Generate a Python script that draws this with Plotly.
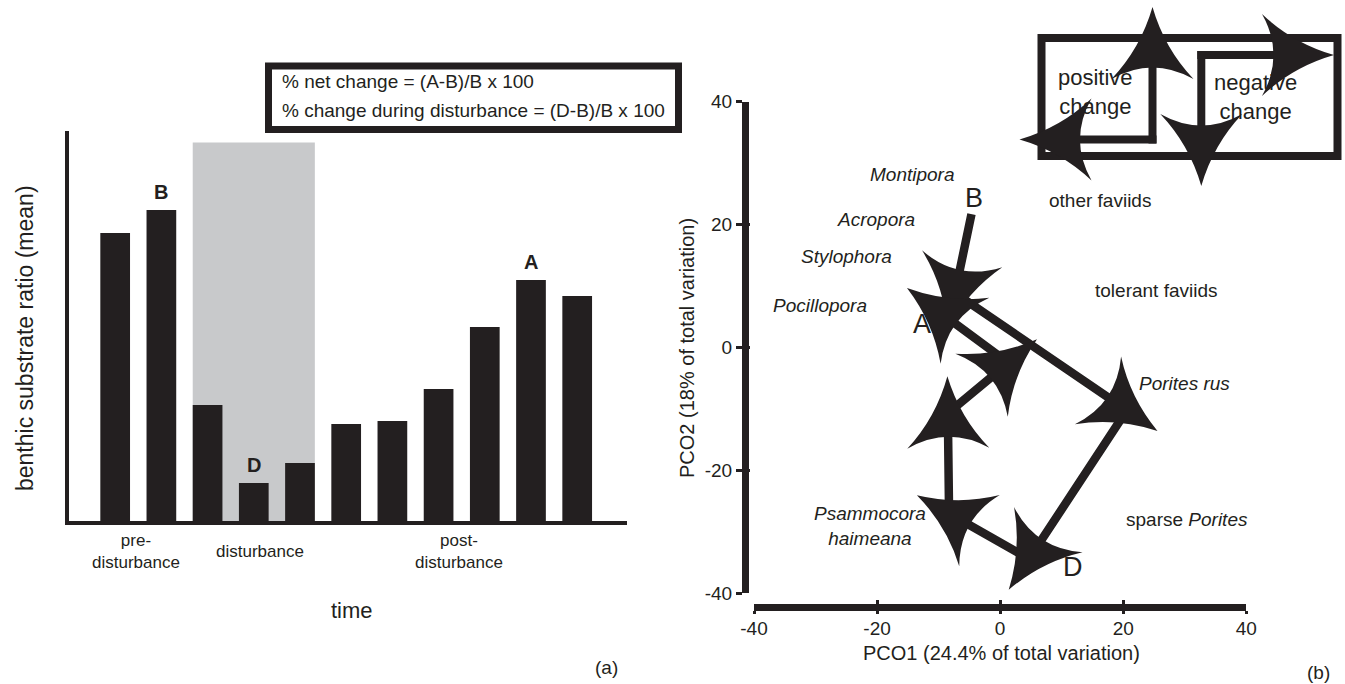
import plotly.graph_objects as go

# ---------------- data : panel (a) ----------------
bar_index = list(range(11))
bar_values = [2.88, 3.11, 1.16, 0.38, 0.58, 0.97, 1.00, 1.32, 1.94, 2.41, 2.25]
bar_letters = ["", "B", "", "D", "", "", "", "", "", "A", ""]
disturbance_bars = [2, 4]          # first / last bar of the disturbance period
disturbance_top = 3.784
period_labels = ["pre-<br>disturbance", "disturbance", "post-<br>disturbance"]
period_x = [0.45, 3.13, 7.44]
formula_lines = ["% net change = (A-B)/B x 100",
                 "% change during disturbance = (D-B)/B x 100"]

# ---------------- data : panel (b) ----------------
traj_pco1 = [-4.66, -7.34, 20.6, 4.7, -8.3, -8.5, 1.36, -10.3]
traj_pco2 = [21.7, 8.87, -10.2, -34.4, -27.0, -10.7, -2.5, 6.1]
point_labels = ["B", "A", "D"]
point_label_pco1 = [-4.2, -12.7, 11.9]
point_label_pco2 = [24.4, 3.8, -35.7]
species_names = ["<i>Montipora</i>", "<i>Acropora</i>", "<i>Stylophora</i>",
                 "<i>Pocillopora</i>", "other faviids", "tolerant faviids",
                 "<i>Porites rus</i>", "<i>Psammocora</i><br><i>haimeana</i>",
                 "sparse <i>Porites</i>"]
species_pco1 = [-14.2, -20.1, -25.0, -29.2, 16.3, 25.4, 29.9, -21.2, 30.3]
species_pco2 = [28.2, 20.9, 14.8, 6.8, 23.9, 9.3, -5.9, -29.1, -28.0]
pco_ticks = [-40, -20, 0, 20, 40]
pco_ticktext = ["-40", "-20", "0", "20", "40"]

# ---------------- style ----------------
W, H = 1345, 684
INK = "#231f20"
GREY = "#c8c9cb"
FONT = "Liberation Sans, Arial, Helvetica, sans-serif"
BAR_W = 0.643


def px(x):
    return x / W


def py(y):
    return 1 - y / H


xa_dom = [px(68.7), px(627)]
ya_dom = [py(521), py(131)]
xb_dom = [px(754), px(1246.3)]
yb_dom = [py(593.3), py(101.7)]
kx = (xb_dom[1] - xb_dom[0]) * W / 80.0
ky = (yb_dom[1] - yb_dom[0]) * H / 80.0

# concave "stealth" arrow head, local pixel frame (a along direction, b across)
HEAD = {"tip": (37, 0), "w1": (-35, 41), "w2": (-35, -41),
        "c1": (-4.5, 12), "cb": (-12, 0), "c2": (-4.5, -12)}


def head_path(conv, ux, uy):
    pts = {}
    for k, (a, b) in HEAD.items():
        sx = a * ux - b * uy
        sy = a * uy + b * ux
        X, Y = conv(sx, sy)
        pts[k] = f"{X:.5f},{Y:.5f}"
    return (f"M{pts['tip']} Q{pts['c1']} {pts['w1']} Q{pts['cb']} {pts['w2']} "
            f"Q{pts['c2']} {pts['tip']} Z")


def paper_text(x, y, text, size, **kw):
    d = dict(xref="paper", yref="paper", x=px(x), y=py(y), text=text, showarrow=False,
             xanchor="center", yanchor="middle", font=dict(size=size, color=INK))
    d.update(kw)
    return d


shapes = []
annotations = []

# grey disturbance band
shapes.append(dict(type="rect", xref="x", yref="y",
                   x0=disturbance_bars[0] - BAR_W / 2, x1=disturbance_bars[1] + BAR_W / 2,
                   y0=0, y1=disturbance_top, fillcolor=GREY, line=dict(width=0),
                   layer="below"))
# formula box
shapes.append(dict(type="rect", xref="paper", yref="paper",
                   x0=px(268.5), x1=px(678.5), y0=py(129.5), y1=py(66),
                   line=dict(color=INK, width=7), fillcolor="rgba(0,0,0,0)"))
for t, yy in zip(formula_lines, [81.5, 111]):
    annotations.append(paper_text(280, yy, t, 19, xanchor="left"))
# bar letters
for i, (v, s) in enumerate(zip(bar_values, bar_letters)):
    if s:
        annotations.append(dict(xref="x", yref="y", x=bar_index[i], y=v, text=f"<b>{s}</b>",
                                showarrow=False, xanchor="center", yanchor="bottom", yshift=5,
                                font=dict(size=20, color=INK)))
# period labels
for t, xx in zip(period_labels, period_x):
    annotations.append(dict(xref="x", yref="paper", x=xx, y=py(551.5), text=t,
                            showarrow=False, xanchor="center", yanchor="middle",
                            font=dict(size=17, color=INK)))
annotations.append(paper_text(352, 610, "time", 22))
annotations.append(paper_text(25, 338, "benthic substrate ratio (mean)", 23, textangle=-90))
annotations.append(paper_text(606, 667, "(a)", 19))

# ---------- panel (b) ----------
# arrow heads on trajectory, centred on each point, oriented from previous point
for i in range(1, len(traj_pco1)):
    cx, cy = traj_pco1[i], traj_pco2[i]
    dx = (cx - traj_pco1[i - 1]) * kx
    dy = -(cy - traj_pco2[i - 1]) * ky
    n = (dx * dx + dy * dy) ** 0.5
    ux, uy = dx / n, dy / n

    def conv(sx, sy, cx=cx, cy=cy):
        return cx + sx / kx, cy - sy / ky
    shapes.append(dict(type="path", xref="x2", yref="y2", path=head_path(conv, ux, uy),
                       fillcolor=INK, line=dict(width=0), layer="above"))

for t, xx, yy in zip(species_names, species_pco1, species_pco2):
    annotations.append(dict(xref="x2", yref="y2", x=xx, y=yy, text=t, showarrow=False,
                            xanchor="center", yanchor="middle",
                            font=dict(size=19, color=INK)))
for t, xx, yy in zip(point_labels, point_label_pco1, point_label_pco2):
    annotations.append(dict(xref="x2", yref="y2", x=xx, y=yy, text=t, showarrow=False,
                            xanchor="center", yanchor="middle",
                            font=dict(size=27, color=INK)))

annotations.append(paper_text(1001, 653, "PCO1 (24.4% of total variation)", 20))
annotations.append(paper_text(687, 348, "PCO2 (18% of total variation)", 20, textangle=-90))
annotations.append(paper_text(1318, 672, "(b)", 19))

# legend box (positive / negative change)
shapes.append(dict(type="rect", xref="paper", yref="paper",
                   x0=px(1041.5), x1=px(1337.5), y0=py(156), y1=py(38),
                   line=dict(color=INK, width=8), fillcolor="rgba(0,0,0,0)"))
annotations.append(paper_text(1095, 91.5, "positive<br>change", 22))
annotations.append(paper_text(1255, 96.5, "negative<br>change", 22))
legend_lines = [((1152.5, 143.5), (1152.5, 44)), ((1156.5, 139.5), (1056.5, 139.5)),
                ((1201.3, 51), (1201.3, 149)), ((1197.3, 55), (1297, 55))]
for (x0, y0), (x1, y1) in legend_lines:
    shapes.append(dict(type="line", xref="paper", yref="paper",
                       x0=px(x0), y0=py(y0), x1=px(x1), y1=py(y1),
                       line=dict(color=INK, width=8)))
legend_heads = [((1152.5, 44), (0, -1)), ((1056.5, 139.5), (-1, 0)),
                ((1201.3, 149), (0, 1)), ((1297, 55), (1, 0))]
for (cxp, cyp), (ux, uy) in legend_heads:
    def convp(sx, sy, cxp=cxp, cyp=cyp):
        return px(cxp + sx), py(cyp + sy)
    shapes.append(dict(type="path", xref="paper", yref="paper",
                       path=head_path(convp, ux, uy), fillcolor=INK,
                       line=dict(width=0), layer="above"))

fig = go.Figure()
fig.add_trace(go.Bar(x=bar_index, y=bar_values, width=BAR_W, marker=dict(color=INK, line=dict(width=0)),
                     xaxis="x", yaxis="y", showlegend=False, hoverinfo="skip"))
fig.add_trace(go.Scatter(x=traj_pco1, y=traj_pco2, mode="lines",
                         line=dict(color=INK, width=8.5), xaxis="x2", yaxis="y2",
                         showlegend=False, hoverinfo="skip", cliponaxis=False))
fig.add_trace(go.Scatter(x=[None], y=[None], xaxis="x4", yaxis="y4",
                         showlegend=False, hoverinfo="skip"))

tickfont = dict(size=19, color=INK)
fig.update_layout(
    width=W, height=H, margin=dict(l=0, r=0, t=0, b=0, pad=0, autoexpand=False),
    paper_bgcolor="white", plot_bgcolor="white",
    font=dict(family=FONT, color=INK),
    showlegend=False,
    xaxis=dict(domain=xa_dom, range=[-1.006, 11.078], anchor="y", showline=True,
               linewidth=4, linecolor=INK, showticklabels=False, ticks="",
               showgrid=False, zeroline=False, fixedrange=True, automargin=False),
    yaxis=dict(domain=ya_dom, range=[0, 3.90], anchor="x", showline=True,
               linewidth=4, linecolor=INK, showticklabels=False, ticks="",
               showgrid=False, zeroline=False, fixedrange=True, automargin=False),
    xaxis2=dict(domain=xb_dom, range=[-40, 40], anchor="free", position=py(606.7),
                showline=True, linewidth=7, linecolor=INK, ticks="outside", ticklen=3.3,
                tickwidth=3.3, tickcolor=INK, tickvals=pco_ticks, ticktext=pco_ticktext,
                tickfont=tickfont, ticklabelstandoff=-2, showgrid=False, zeroline=False,
                fixedrange=True, automargin=False),
    yaxis2=dict(domain=yb_dom, range=[-40, 40], anchor="free", position=px(745),
                showline=True, linewidth=7, linecolor=INK, ticks="outside", ticklen=6,
                tickwidth=3.3, tickcolor=INK, tickvals=pco_ticks, ticktext=pco_ticktext,
                tickfont=tickfont, showgrid=False, zeroline=False, fixedrange=True,
                automargin=False),
    xaxis4=dict(overlaying="x2", range=[-40, 40], anchor="free", position=py(606.7),
                showline=False, linewidth=7, ticks="inside", ticklen=6.6, tickwidth=3.3,
                tickcolor=INK, tickvals=pco_ticks, showticklabels=False,
                showgrid=False, zeroline=False, fixedrange=True, automargin=False),
    yaxis4=dict(overlaying="y2", range=[-40, 40], anchor="free", position=px(745),
                showline=False, linewidth=7, ticks="inside", ticklen=4, tickwidth=3.3,
                tickcolor=INK, tickvals=pco_ticks, showticklabels=False,
                showgrid=False, zeroline=False, fixedrange=True, automargin=False),
    shapes=shapes, annotations=annotations,
)

fig.write_html("out.html", config={"displayModeBar": False},
               post_script="document.body.style.margin='0px';")
